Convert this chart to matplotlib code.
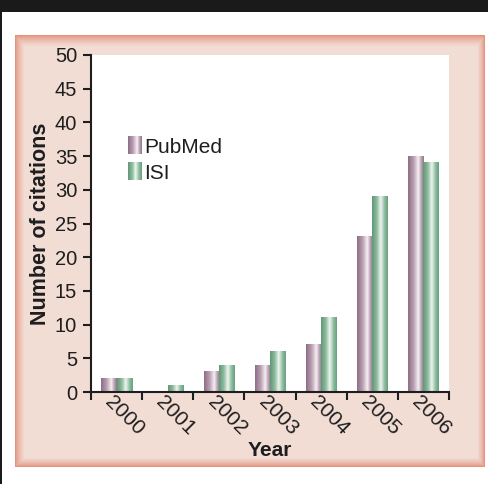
import numpy as np
import matplotlib
matplotlib.use("Agg")
import matplotlib.pyplot as plt
from matplotlib.patches import Rectangle, Patch
from matplotlib.legend_handler import HandlerBase
from matplotlib.image import BboxImage
from matplotlib.transforms import Bbox, TransformedBbox
from matplotlib.colors import LinearSegmentedColormap, to_rgb

plt.rcParams["font.family"] = ["Liberation Sans", "DejaVu Sans"]

years = ["2000", "2001", "2002", "2003", "2004", "2005", "2006"]
pubmed = [2, 0, 3, 4, 7, 23, 35]
isi = [2, 1, 4, 6, 11, 29, 34]

pub_cmap = LinearSegmentedColormap.from_list(
    "pub", [(0, "#8e6d86"), (0.35, "#b99fb1"), (0.65, "#f5f0f3"),
            (0.85, "#b89eb0"), (1, "#94758b")])
isi_cmap = LinearSegmentedColormap.from_list(
    "isi", [(0, "#5f9877"), (0.3, "#8dbb9e"), (0.55, "#eef6f0"),
            (0.8, "#8dbb9e"), (1, "#66a07f")])
grad = np.linspace(0, 1, 64).reshape(1, -1)

fig = plt.figure(figsize=(4.89, 4.84), dpi=100)
fig.patch.set_facecolor("white")

# page decoration: black top bar, left strip, pink panel with soft edge
fig.add_artist(Rectangle((0, 1 - 12 / 484), 1, 12 / 484, transform=fig.transFigure,
                         facecolor="#1a1a1a", edgecolor="none", zorder=-5))
fig.add_artist(Rectangle((0, 0), 2 / 489, 1, transform=fig.transFigure,
                         facecolor="#1a1a1a", edgecolor="none", zorder=-5))
pw, ph = 470, 432
yy, xx = np.mgrid[0:ph, 0:pw]
d = np.minimum.reduce([xx / 9.0, (pw - 1 - xx) / 7.0, yy / 11.0, (ph - 1 - yy) / 9.0])
t = np.clip(d, 0, 1)[..., None] ** 0.7
edge = np.array(to_rgb("#e3927c"))
fill = np.array(to_rgb("#f2ddd5"))
panel = edge + (fill - edge) * t
bg = fig.add_axes([15 / 489, 1 - 467 / 484, pw / 489, ph / 484], zorder=-1)
bg.imshow(panel, aspect="auto", interpolation="bilinear")
bg.axis("off")

ax = fig.add_axes([91 / 489, 1 - 392 / 484, (449 - 91) / 489, (392 - 55) / 484])
ax.set_facecolor("white")

x = np.arange(len(years))
w = 0.3
bars1 = ax.bar(x - w / 2, pubmed, w, color="none", edgecolor="none")
bars2 = ax.bar(x + w / 2, isi, w, color="none", edgecolor="none")
for bars, cmap in [(bars1, pub_cmap), (bars2, isi_cmap)]:
    for b in bars:
        if b.get_height() <= 0:
            continue
        ax.imshow(grad, cmap=cmap, aspect="auto", interpolation="bilinear",
                  extent=[b.get_x(), b.get_x() + b.get_width(), 0, b.get_height()],
                  zorder=2)

ax.set_xlim(-0.5, len(years) - 0.5)
ax.set_ylim(0, 50)
ax.set_yticks(np.arange(0, 51, 5))
ax.set_xticks(np.arange(-0.5, len(years), 1))
ax.set_xticklabels([])
ax.tick_params(axis="y", direction="out", length=6, width=1.5, labelsize=14.5,
               colors="#1e1e1e", pad=4)
ax.tick_params(axis="x", direction="out", length=6, width=1.5, colors="#1e1e1e")
for i, yr in enumerate(years):
    ax.annotate(yr, (i, 0), xycoords=("data", "axes fraction"), xytext=(8, -24),
                textcoords="offset pixels", rotation=-45, rotation_mode="anchor",
                ha="center", va="center", fontsize=15, color="#1e1e1e")
for s in ["top", "right"]:
    ax.spines[s].set_visible(False)
for s in ["left", "bottom"]:
    ax.spines[s].set_linewidth(1.5)
    ax.spines[s].set_color("#1e1e1e")

ax.set_ylabel("Number of citations", fontsize=15.5, fontweight="bold", color="#1e1e1e")
ax.yaxis.set_label_coords(-0.112, 0.5)
ax.set_xlabel("Year", fontsize=15, fontweight="bold", color="#1e1e1e")
ax.xaxis.set_label_coords(0.5, -0.145)


class GradHandler(HandlerBase):
    def __init__(self, cmap):
        super().__init__()
        self.cmap = cmap

    def create_artists(self, legend, orig_handle, xdescent, ydescent, width, height,
                       fontsize, trans):
        bb = Bbox.from_bounds(-xdescent, -ydescent, width, height)
        img = BboxImage(TransformedBbox(bb, trans), cmap=self.cmap,
                        interpolation="bilinear")
        img.set_data(grad)
        return [img]


h1, h2 = Patch(label="PubMed"), Patch(label="ISI")
leg = ax.legend([h1, h2], ["PubMed", "ISI"], loc="upper left",
                bbox_to_anchor=(0.103, 0.757),
                frameon=False, fontsize=15, handlelength=0.67, handleheight=0.9,
                handletextpad=0.1, labelspacing=0.3, borderaxespad=0, borderpad=0,
                handler_map={h1: GradHandler(pub_cmap), h2: GradHandler(isi_cmap)})
for txt in leg.get_texts():
    txt.set_color("#1e1e1e")

fig.savefig("out.png", dpi=100)
